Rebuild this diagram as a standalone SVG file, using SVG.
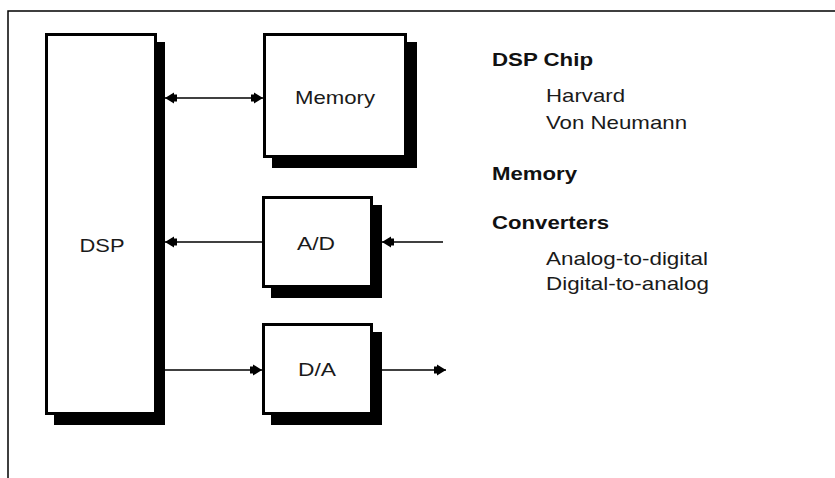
<svg xmlns="http://www.w3.org/2000/svg" width="835" height="478" viewBox="0 0 835 478">
  <style>
    .frame { stroke: #000; stroke-width: 1.5; fill: none; }
    .shadow { fill: #000; }
    .box { fill: #fff; stroke: #000; stroke-width: 3; }
    .wire { stroke: #000; stroke-width: 1.5; fill: none; }
    .lbl { font-family: "Liberation Sans", Arial, sans-serif; font-size: 19px; fill: #1a1a1a; }
    .head { font-family: "Liberation Sans", Arial, sans-serif; font-size: 19px; font-weight: bold; fill: #111; }
  </style>
  <defs>
    <marker id="arrow" viewBox="0 0 12 12" refX="12" refY="6" markerWidth="12" markerHeight="12" markerUnits="userSpaceOnUse" orient="auto-start-reverse">
      <path d="M12,6 L3,0.5 L3,2.5 L0,2.5 L0,9.5 L3,9.5 L3,11.5 Z" fill="#000"/>
    </marker>
  </defs>

  <rect width="835" height="478" fill="#fff"/>

  <!-- page frame: top and left rules -->
  <path class="frame" d="M8,478 V11 H835"/>

  <!-- processor block -->
  <g id="dsp">
    <rect class="shadow" x="54" y="42" width="111" height="383"/>
    <rect class="box" x="46.5" y="34.5" width="109" height="379"/>
    <text class="lbl" x="102" y="252" text-anchor="middle" textLength="45" lengthAdjust="spacingAndGlyphs">DSP</text>
  </g>

  <g id="memory">
    <rect class="shadow" x="272" y="42" width="145" height="126"/>
    <rect class="box" x="264.5" y="34.5" width="141" height="122"/>
    <text class="lbl" x="335" y="104" text-anchor="middle" textLength="80" lengthAdjust="spacingAndGlyphs">Memory</text>
  </g>

  <g id="adc">
    <rect class="shadow" x="271" y="205" width="111" height="93"/>
    <rect class="box" x="263.5" y="197.5" width="108" height="89"/>
    <text class="lbl" x="316" y="250" text-anchor="middle" textLength="38" lengthAdjust="spacingAndGlyphs">A/D</text>
  </g>

  <g id="dac">
    <rect class="shadow" x="271" y="332" width="111" height="93"/>
    <rect class="box" x="263.5" y="324.5" width="108" height="89"/>
    <text class="lbl" x="317" y="376" text-anchor="middle" textLength="38" lengthAdjust="spacingAndGlyphs">D/A</text>
  </g>

  <!-- signal paths -->
  <g id="connectors">
    <line class="wire" x1="165" y1="98" x2="263" y2="98" marker-start="url(#arrow)" marker-end="url(#arrow)"/>
    <line class="wire" x1="443" y1="242" x2="382" y2="242" marker-end="url(#arrow)"/>
    <line class="wire" x1="262" y1="242" x2="165" y2="242" marker-end="url(#arrow)"/>
    <line class="wire" x1="165" y1="370" x2="262" y2="370" marker-end="url(#arrow)"/>
    <line class="wire" x1="382" y1="370" x2="446" y2="370" marker-end="url(#arrow)"/>
  </g>

  <!-- topic outline -->
  <g id="outline">
    <text class="head" x="492" y="66" textLength="101" lengthAdjust="spacingAndGlyphs">DSP Chip</text>
    <text class="lbl" x="546" y="102" textLength="79" lengthAdjust="spacingAndGlyphs">Harvard</text>
    <text class="lbl" x="546" y="129" textLength="141" lengthAdjust="spacingAndGlyphs">Von Neumann</text>
    <text class="head" x="492" y="180" textLength="85" lengthAdjust="spacingAndGlyphs">Memory</text>
    <text class="head" x="492" y="229" textLength="117" lengthAdjust="spacingAndGlyphs">Converters</text>
    <text class="lbl" x="546" y="265" textLength="162" lengthAdjust="spacingAndGlyphs">Analog-to-digital</text>
    <text class="lbl" x="546" y="290" textLength="163" lengthAdjust="spacingAndGlyphs">Digital-to-analog</text>
  </g>
</svg>
